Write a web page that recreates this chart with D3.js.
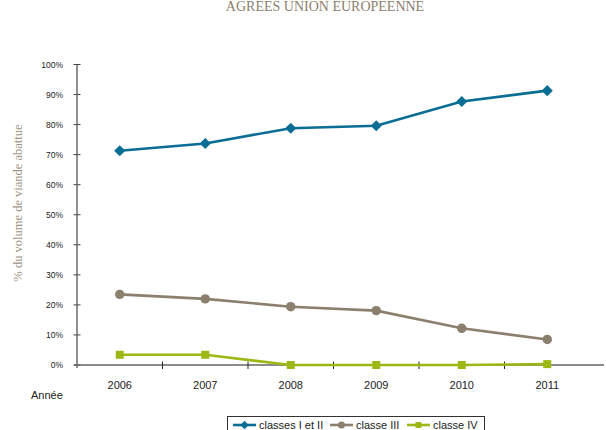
<!DOCTYPE html>
<html>
<head>
<meta charset="utf-8">
<title>classes</title>
<script src="https://cdn.jsdelivr.net/npm/d3@7/dist/d3.min.js"></script>
<style>
    body { margin: 0; background: #fff; }
    svg { display: block; }
</style>
</head>
<body>
<svg width="606" height="430"></svg>
<script>
    // data
    const years = ["2006", "2007", "2008", "2009", "2010", "2011"];
    const classesIetII = [71.3, 73.7, 78.8, 79.6, 87.7, 91.3];
    const classeIII = [23.5, 22.0, 19.4, 18.1, 12.2, 8.5];
    const classeIV = [3.4, 3.4, 0, 0, 0, 0.3];
    const yTicks = [0, 10, 20, 30, 40, 50, 60, 70, 80, 90, 100];
    const seriesNames = ["classes I et II", "classe III", "classe IV"];

    const colors = ["#0a6d93", "#8b7f6d", "#9cb814"];
    // diamond = square turned 45 degrees
    const shapes = [d3.symbolSquare, d3.symbolCircle, d3.symbolSquare];
    const sizes = [62, 70, 64];
    const turns = [45, 0, 0];

    const svg = d3.select("svg");
    const mLeft = 77, mRight = 590, mTop = 64.5, mBottom = 365;

    const x = d3.scaleBand().domain(years).range([mLeft, mRight]).padding(0);
    const y = d3.scaleLinear().domain([0, 100]).range([mBottom, mTop]);

    // title (cut off at top like the reference)
    svg.append("text")
        .attr("x", 325).attr("y", 11)
        .attr("text-anchor", "middle")
        .attr("font-family", "'Liberation Serif', 'DejaVu Serif', serif")
        .attr("font-size", 14)
        .attr("fill", "#8b7f6d")
        .text("AGREES UNION EUROPEENNE");

    // y axis
    const yAxis = svg.append("g")
        .attr("transform", "translate(" + mLeft + ",0)")
        .call(d3.axisLeft(y).tickValues(yTicks).tickSize(0).tickPadding(14)
            .tickFormat(function(d) { return d + "%"; }));
    yAxis.select(".domain").remove();
    yAxis.selectAll("text")
        .attr("font-family", "'Liberation Sans', Arial, sans-serif")
        .attr("font-size", 8.5)
        .attr("fill", "#222");
    yAxis.selectAll(".ytick").data(yTicks).enter().append("line")
        .attr("x1", -3.5).attr("x2", 3.5)
        .attr("y1", function(d) { return y(d); })
        .attr("y2", function(d) { return y(d); })
        .attr("stroke", "#444").attr("stroke-width", 1);
    svg.append("line")
        .attr("x1", mLeft).attr("x2", mLeft)
        .attr("y1", mTop).attr("y2", mBottom + 3)
        .attr("stroke", "#555").attr("stroke-width", 1.3);

    // x axis
    const xAxis = svg.append("g")
        .attr("transform", "translate(0," + mBottom + ")")
        .call(d3.axisBottom(x).tickSize(0).tickPadding(16));
    xAxis.select(".domain").remove();
    xAxis.selectAll("text")
        .attr("font-family", "'Liberation Sans', Arial, sans-serif")
        .attr("font-size", 11)
        .attr("fill", "#222");
    svg.append("line")
        .attr("x1", mLeft - 3).attr("x2", 604)
        .attr("y1", mBottom).attr("y2", mBottom)
        .attr("stroke", "#666").attr("stroke-width", 1.3);
    svg.selectAll(".xtick").data(years.slice(1)).enter().append("line")
        .attr("x1", function(d) { return x(d); })
        .attr("x2", function(d) { return x(d); })
        .attr("y1", mBottom - 3.5).attr("y2", mBottom + 4)
        .attr("stroke", "#222").attr("stroke-width", 1);

    svg.append("text")
        .attr("x", 31).attr("y", 399)
        .attr("font-family", "'Liberation Sans', Arial, sans-serif")
        .attr("font-size", 11)
        .attr("fill", "#222")
        .text("Année");

    svg.append("text")
        .attr("transform", "translate(22,203) rotate(-90)")
        .attr("text-anchor", "middle")
        .attr("font-family", "'Liberation Serif', 'DejaVu Serif', serif")
        .attr("font-size", 12.5)
        .attr("fill", "#a09484")
        .text("% du volume de viande abattue");

    // series
    const series = [classesIetII, classeIII, classeIV];
    const cx = function(i) { return x(years[i]) + x.bandwidth() / 2; };
    const line = d3.line()
        .x(function(d, i) { return cx(i); })
        .y(function(d) { return y(d); });

    series.forEach(function(vals, s) {
        const g = svg.append("g");
        g.append("path")
            .datum(vals)
            .attr("d", line)
            .attr("fill", "none")
            .attr("stroke", colors[s])
            .attr("stroke-width", 2.6);
        g.selectAll("path.m").data(vals).enter().append("path")
            .attr("class", "m")
            .attr("d", d3.symbol().type(shapes[s]).size(sizes[s]))
            .attr("transform", function(d, i) {
                return "translate(" + cx(i) + "," + y(d) + ") rotate(" + turns[s] + ")";
            })
            .attr("fill", colors[s]);
    });

    // legend
    const lg = svg.append("g");
    lg.append("rect")
        .attr("x", 227.5).attr("y", 416.5)
        .attr("width", 257).attr("height", 20)
        .attr("fill", "#fff").attr("stroke", "#333").attr("stroke-width", 1);
    const legendX = [233, 330, 407];
    seriesNames.forEach(function(name, s) {
        lg.append("line")
            .attr("x1", legendX[s]).attr("x2", legendX[s] + 23)
            .attr("y1", 425).attr("y2", 425)
            .attr("stroke", colors[s]).attr("stroke-width", 2.6);
        lg.append("path")
            .attr("d", d3.symbol().type(shapes[s]).size(sizes[s] * 0.55))
            .attr("transform", "translate(" + (legendX[s] + 11.5) + ",425) rotate(" + turns[s] + ")")
            .attr("fill", colors[s]);
        lg.append("text")
            .attr("x", legendX[s] + 26).attr("y", 429)
            .attr("font-family", "'Liberation Sans', Arial, sans-serif")
            .attr("font-size", 11)
            .attr("fill", "#222")
            .text(name);
    });
</script>
</body>
</html>
